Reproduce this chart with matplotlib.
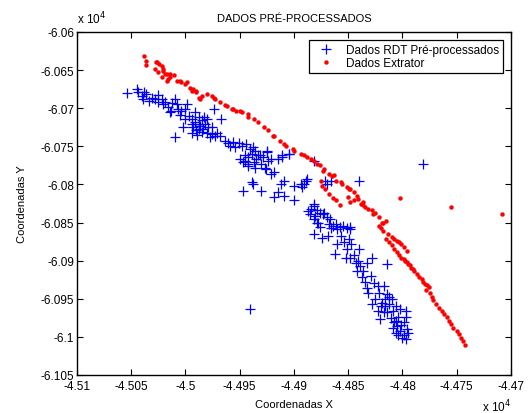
import matplotlib
matplotlib.use('Agg')
import matplotlib.pyplot as plt
import numpy as np

plt.rcParams['font.family'] = ['Liberation Sans', 'DejaVu Sans']

# Dados RDT pre-processados (blue crosses)
rdt_x = [-45054, -45045, -45044, -45040, -45038, -45036, -45039, -45034, -45031, -45028,
         -45025, -45022, -45021, -45019, -45016, -45013, -45014, -45010, -45008, -45007,
         -45004, -45000, -44999, -44997, -44994, -44991, -44991, -44988, -44985, -44987,
         -44984, -44982, -44980, -45002, -45010, -44974, -44967, -44976, -44973, -44993,
         -44990, -44994, -44988, -44983, -44979, -44985, -44977, -44989,
         -44971, -44968, -44964, -44961, -44959, -44956, -44951, -44948, -44944, -44950,
         -44945, -44942, -44939, -44936, -44933, -44942, -44937, -44930, -44925, -44924,
         -44927, -44911, -44905, -44936, -44945, -44947, -44942, -44931, -44939, -44938,
         -44947, -44930, -44938, -44925, -44921, -44915, -44911, -44905, -44882, -44926,
         -44921, -44918, -44909, -44912, -44900, -44894, -44889, -44888, -44871, -44866,
         -44840, -44781, -44915, -44909, -44900, -44882, -44918, -44891, -44893, -44870,
         -44882, -44884, -44879, -44876, -44885, -44881, -44873, -44870, -44882, -44878,
         -44868, -44864, -44861, -44858, -44855, -44848, -44872, -44879, -44882, -44874,
         -44869, -44866, -44860, -44851, -44848, -44857, -44854, -44851, -44852, -44848,
         -44845, -44840, -44843, -44839, -44836, -44842, -44833, -44828, -44814, -44829,
         -44826, -44833, -44823, -44817, -44822, -44819, -44816, -44812, -44806, -44802,
         -44797, -44814, -44811, -44808, -44805, -44802, -44799, -44797, -44800, -44796,
         -44806, -44809, -44799, -44817, -44820, -44941, -44837, -44832, -44825, -44823,
         -44810, -44804, -44847, -44860, -44862, -44814,
         -44994, -44988, -44980, -44976, -45000, -45005, -45012, -45025, -44828, -44816,
         -44809, -44806, -44801, -44804, -44795, -44797, -44812, -44821, -44835, -44841,
         -44849, -44867, -44876, -44887, -44935, -44929, -44954, -44941]
rdt_y = [-60680, -60675, -60679, -60684, -60679, -60681, -60688, -60690, -60686, -60688,
         -60692, -60688, -60695, -60692, -60699, -60703, -60705, -60688, -60695, -60701,
         -60703, -60701, -60695, -60710, -60714, -60705, -60718, -60712, -60716, -60723,
         -60727, -60721, -60732, -60725, -60738, -60701, -60714, -60734, -60737, -60725,
         -60729, -60732, -60721, -60711, -60725, -60731, -60738, -60735,
         -60732, -60736, -60743, -60745, -60749, -60744, -60745, -60749, -60747, -60767,
         -60762, -60764, -60760, -60756, -60762, -60773, -60771, -60773, -60756, -60769,
         -60778, -60764, -60760, -60778, -60769, -60771, -60776, -60762, -60797, -60799,
         -60808, -60808, -60751, -60757, -60767, -60767, -60762, -60760, -60769, -60780,
         -60786, -60784, -60795, -60799, -60802, -60799, -60795, -60793, -60795, -60795,
         -60795, -60773, -60810, -60815, -60821, -60828, -60817, -60799, -60804, -60799,
         -60826, -60832, -60834, -60837, -60839, -60841, -60839, -60843, -60845, -60850,
         -60852, -60854, -60852, -60856, -60854, -60856, -60837, -60850, -60865, -60870,
         -60868, -60857, -60859, -60857, -60859, -60868, -60876, -60885, -60896, -60896,
         -60892, -60885, -60903, -60907, -60914, -60914, -60903, -60896, -60905, -60920,
         -60929, -60936, -60933, -60933, -60942, -60955, -60960, -60957, -60960, -60964,
         -60966, -60968, -60975, -60981, -60986, -60992, -60997, -61003, -61001, -60990,
         -60995, -60988, -60981, -60968, -60960, -60963, -60922, -60943, -60950, -60966,
         -60950, -60974, -60878, -60878, -60891, -60944,
         -60721, -60727, -60714, -60725, -60714, -60709, -60693, -60683, -60957, -60950,
         -60966, -60979, -60984, -60998, -60995, -60974, -60948, -60977, -60928, -60900,
         -60872, -60845, -60856, -60835, -60767, -60764, -60751, -60754]

# Dados Extrator (red dots)
ext_x = [-45038, -45036, -45036, -45026, -45024, -45022, -45028, -45025, -45021, -45019,
         -45016, -45014, -45011, -45022, -45017, -45008, -45005, -45004, -45000, -44999,
         -44996, -44993, -44994, -44990, -44988, -44985, -44980, -44976, -44973, -44968,
         -44964, -44987, -45027, -45021, -45017, -45014, -44990, -44974, -44962, -44956,
         -44950, -44942, -44937, -44933, -44928, -44957, -44953, -44948, -44942, -44924,
         -44919, -44913, -44907, -44901, -44894, -44888, -44882, -44876, -44918, -44909,
         -44900, -44891, -44872, -44863, -44857, -44849, -44842, -44836, -44884, -44879,
         -44873, -44868, -44865, -44861, -44856, -44851, -44848, -44845, -44841, -44838,
         -44835, -44832, -44828, -44825, -44822, -44819, -44815,
         -44875, -44874, -44871, -44868, -44864, -44861, -44858, -44850, -44848, -44845,
         -44802, -44755, -44708,
         -44822, -44818, -44813, -44810, -44805, -44801, -44796, -44815, -44810, -44805,
         -44801, -44796, -44792, -44787, -44782, -44779, -44776, -44818,
         -44799, -44795, -44790, -44775, -44773, -44769, -44764, -44759, -44755, -44750,
         -44746, -44742, -44772, -44766, -44762, -44757, -44753, -44748, -44744, -44781,
         -44785, -44789, -44793, -44798, -44778, -44777, -44808, -44803, -44799, -44812,
         -44808, -44803, -44820, -44827, -44836]
ext_y = [-60632, -60638, -60643, -60640, -60642, -60644, -60649, -60653, -60649, -60655,
         -60662, -60655, -60656, -60659, -60664, -60664, -60664, -60666, -60668, -60666,
         -60673, -60675, -60677, -60679, -60686, -60684, -60681, -60684, -60688, -60692,
         -60696, -60688, -60640, -60651, -60655, -60659, -60677, -60686, -60697, -60701,
         -60703, -60708, -60714, -60718, -60725, -60701, -60703, -60705, -60712, -60729,
         -60736, -60743, -60749, -60754, -60760, -60764, -60769, -60775, -60736, -60747,
         -60756, -60762, -60780, -60788, -60797, -60806, -60815, -60823, -60767, -60773,
         -60782, -60786, -60789, -60795, -60799, -60804, -60806, -60810, -60819, -60826,
         -60830, -60832, -60834, -60837, -60843, -60850, -60848,
         -60795, -60802, -60806, -60812, -60818, -60821, -60827, -60817, -60823, -60821,
         -60818, -60829, -60839,
         -60854, -60861, -60865, -60869, -60874, -60878, -60887, -60872, -60880, -60889,
         -60896, -60902, -60909, -60917, -60924, -60931, -60935, -60850,
         -60898, -60904, -60911, -60942, -60948, -60957, -60966, -60974, -60983, -60992,
         -61001, -61011, -60952, -60962, -60970, -60979, -60988, -60996, -61005, -60928,
         -60921, -60914, -60906, -60900, -60938, -60932, -60872, -60876, -60882, -60876,
         -60885, -60893, -60857, -60839, -60827]

fig = plt.figure(figsize=(5.28, 4.14), dpi=100)
ax = fig.add_axes([0.1458, 0.0918, 0.822, 0.8285])

ax.plot(rdt_x, rdt_y, '+', color='#0000ff', markersize=6.5, markeredgewidth=0.9,
        label='Dados RDT Pré-processados')
ax.plot(ext_x, ext_y, 'o', color='#ff0000', markersize=3.2, markeredgewidth=0,
        label='Dados Extrator')

ax.set_xlim(-45100, -44700)
ax.set_ylim(-61050, -60600)
ax.set_xticks(np.arange(-45100, -44699, 50))
ax.set_yticks(np.arange(-61050, -60599, 50))
fmt = plt.FuncFormatter(lambda v, p: '%g' % round(v / 1e4, 4))
ax.xaxis.set_major_formatter(fmt)
ax.yaxis.set_major_formatter(fmt)
ax.tick_params(direction='in', length=4, width=0.8, labelsize=8.5, pad=2,
               top=True, right=True, colors='black')
ax.tick_params(axis='x', pad=3.5)
for s in ax.spines.values():
    s.set_linewidth(1.0)

ax.set_title('DADOS PRÉ-PROCESSADOS', fontsize=8, pad=8)
ax.set_xlabel('Coordenadas X', fontsize=8, labelpad=5)
ax.set_ylabel('Coordenadas Y', fontsize=8, labelpad=10)

fig.text(0.146, 0.935, r'x 10$^{4}$', fontsize=8.5, ha='left', va='bottom')
fig.text(0.968, -0.002, r'x 10$^{4}$', fontsize=8.5, ha='right', va='bottom')

leg = ax.legend(loc='upper right', fontsize=8.5, fancybox=False, framealpha=1,
                edgecolor='black', borderaxespad=0.7, handletextpad=0.6,
                borderpad=0.3, labelspacing=0.1, handlelength=2.2)
leg.get_frame().set_linewidth(0.9)

fig.savefig('out.png', dpi=100)
